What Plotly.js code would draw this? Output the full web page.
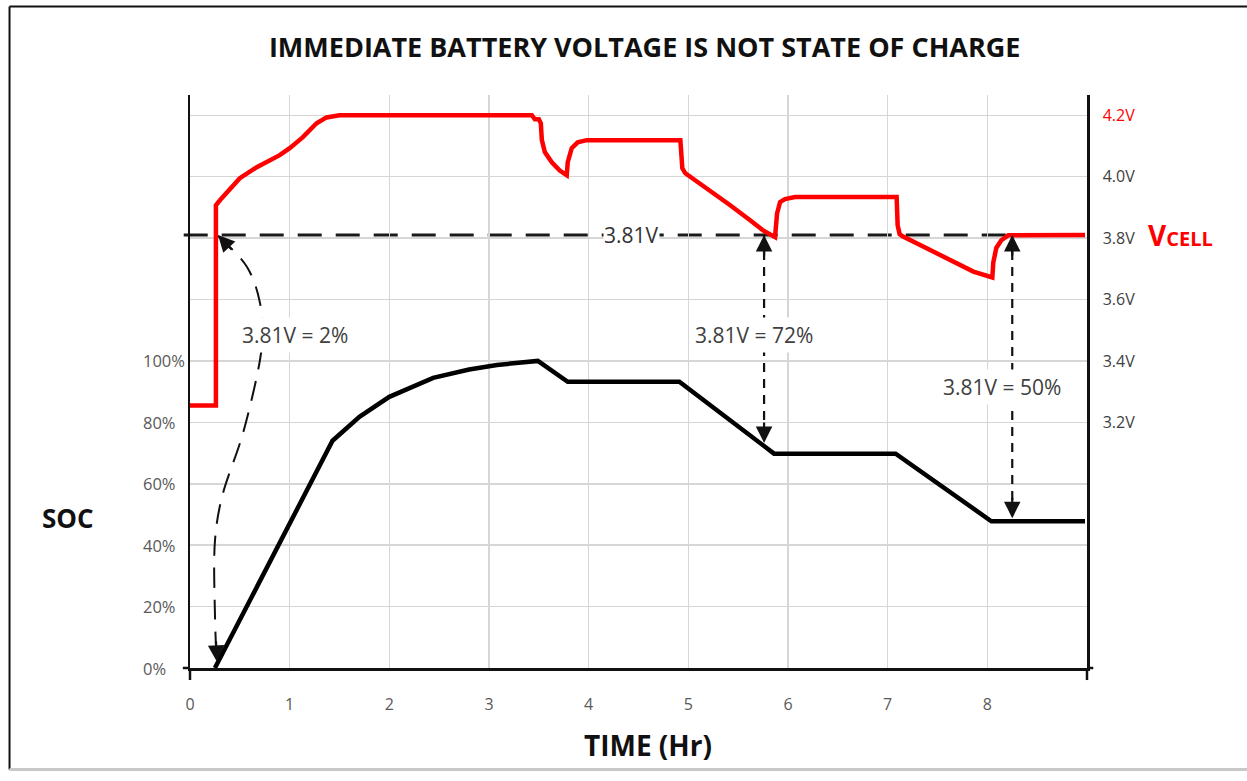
<!DOCTYPE html>
<html>
<head>
<meta charset="utf-8">
<script src="https://cdn.plot.ly/plotly-3.0.1.min.js"></script>
<style>
html,body{margin:0;padding:0;background:#fff;}
#chart{width:1247px;height:781px;}
</style>
</head>
<body>
<div id="chart"></div>
<script>
// ---------- data ----------
const chartTitle = 'IMMEDIATE BATTERY VOLTAGE IS NOT STATE OF CHARGE';

// State of charge (black), percent vs hours
const socHours = [0.25, 1.43, 1.70, 2.00, 2.44, 2.80, 3.08, 3.49, 3.79, 4.91, 5.86, 7.08, 8.04, 8.98];
const socPct   = [0,    74,   81.8, 88.3, 94.5, 97.2, 98.7, 100,  93.2, 93.2, 69.8, 69.8, 47.8, 47.8];

// Cell voltage (red), volts vs hours
const vHours = [0, 0.26, 0.26, 0.30, 0.50, 0.67, 0.90, 1.00, 1.13, 1.27, 1.37, 1.50, 2.50, 3.43,
                3.46, 3.50, 3.52, 3.53, 3.56, 3.63, 3.71, 3.78,
                3.79, 3.83, 3.89, 3.98, 4.92,
                4.94, 4.97, 5.19, 5.42, 5.62, 5.75, 5.87,
                5.88, 5.89, 5.92, 5.97, 6.07, 7.09,
                7.10, 7.12, 7.15, 7.42, 7.66, 7.86, 8.05,
                8.06, 8.09, 8.14, 8.21, 8.98];
const vCell  = [3.255, 3.255, 3.907, 3.923, 3.995, 4.031, 4.070, 4.093, 4.128, 4.174, 4.193, 4.200, 4.200, 4.200,
                4.187, 4.187, 4.174, 4.120, 4.080, 4.047, 4.020, 4.005,
                4.047, 4.093, 4.112, 4.119, 4.119,
                4.027, 4.011, 3.962, 3.907, 3.858, 3.825, 3.803,
                3.840, 3.880, 3.917, 3.927, 3.934, 3.934,
                3.842, 3.813, 3.806, 3.761, 3.721, 3.691, 3.672,
                3.721, 3.768, 3.793, 3.809, 3.810];

const refVolt = 3.81;                 // dashed reference voltage
const refLabel = '3.81V';

// the three "3.81V = x%" readings
const markHours  = [0.27, 5.76, 8.25];
const markSoc    = [2, 73.3, 48.8];
const markLabels = ['3.81V = 2%', '3.81V = 72%', '3.81V = 50%'];
const labelHours = [1.053, 5.659, 8.147];
const labelPct   = [108.5, 108.5, 91.5];

// curved dashed path of the first reading (hours, percent)
const curveHours = [0.281, 0.572, 0.702, 0.722, 0.702, 0.532, 0.321, 0.251, 0.251, 0.265];
const curvePct   = [140.7, 130.6, 118.9, 106.8, 100.3, 76.5, 55.7, 41.7, 16.6, 4];

// axes
const hourTicks = [0, 1, 2, 3, 4, 5, 6, 7, 8];
const socTicks  = [0, 20, 40, 60, 80, 100];
const voltTicks = [3.2, 3.4, 3.6, 3.8, 4.0, 4.2];
const voltTickText = ['3.2V', '3.4V', '3.6V', '3.8V', '4.0V', '<span style="color:#ff0000">4.2V</span>'];

// ---------- scale relation between the two y axes ----------
const pctMax = 186.6;
const voltAtZeroPct = 2.4;
const voltPerPct = 0.01;
const voltRange = [voltAtZeroPct, voltAtZeroPct + pctMax * voltPerPct];
const voltToPct = v => (v - voltAtZeroPct) / voltPerPct;

const FONT = 'Open Sans, Noto Sans, DejaVu Sans, sans-serif';
const TXT = '#404040';
const GRID = '#d6d6d6';

const traces = [];
// vertical dashed reading lines
for (let i = 1; i < markHours.length; i++) {
  traces.push({
    x: [markHours[i], markHours[i]], y: [voltToPct(refVolt), markSoc[i]],
    xaxis: 'x', yaxis: 'y', mode: 'lines',
    line: {color: '#111', width: 2.2, dash: '9px,7px'}, hoverinfo: 'skip', showlegend: false
  });
}
// curved dashed reading line
traces.push({
  x: curveHours, y: curvePct, xaxis: 'x', yaxis: 'y', mode: 'lines',
  line: {color: '#111', width: 2, dash: '20px,12px', shape: 'spline', smoothing: 1},
  hoverinfo: 'skip', showlegend: false
});
// SOC
traces.push({
  x: socHours, y: socPct, xaxis: 'x', yaxis: 'y', mode: 'lines',
  line: {color: '#000', width: 4.5}, hoverinfo: 'skip', showlegend: false
});
// VCELL
traces.push({
  x: vHours, y: vCell, xaxis: 'x', yaxis: 'y2', mode: 'lines',
  line: {color: '#ff0000', width: 4.5}, hoverinfo: 'skip', showlegend: false
});

const annotations = [];
// left tick labels (left-aligned as in the reference)
socTicks.forEach(v => annotations.push({
  xref: 'paper', x: -0.0545, xanchor: 'left', yref: 'y', y: v, yanchor: 'middle',
  text: v + '%', showarrow: false, font: {family: FONT, size: 16.5, color: '#595959'}
}));
// reading labels
markLabels.forEach((t, i) => annotations.push({
  xref: 'x', x: labelHours[i], yref: 'y', y: labelPct[i], xanchor: 'center', text: t, showarrow: false,
  bgcolor: '#ffffff', borderpad: 3, font: {family: FONT, size: 21, color: TXT}
}));
// 3.81V label on the dashed line
annotations.push({
  xref: 'x', x: 4.43, yref: 'y2', y: refVolt, xanchor: 'center', text: refLabel, showarrow: false,
  bgcolor: '#ffffff', borderpad: 0, font: {family: FONT, size: 21, color: '#333'}
});
// arrow heads
const head = {text: '', showarrow: true, arrowhead: 2, arrowsize: 1.5, arrowwidth: 2.2, arrowcolor: '#111', standoff: 0};
annotations.push(Object.assign({}, head, {xref: 'x', x: curveHours[0], yref: 'y2', y: refVolt, ax: 15, ay: 16}));
annotations.push(Object.assign({}, head, {xref: 'x', x: markHours[0], yref: 'y', y: markSoc[0], ax: -1, ay: -22}));
for (let i = 1; i < markHours.length; i++) {
  annotations.push(Object.assign({}, head, {xref: 'x', x: markHours[i], yref: 'y2', y: refVolt, ax: 0, ay: 22}));
  annotations.push(Object.assign({}, head, {xref: 'x', x: markHours[i], yref: 'y', y: markSoc[i], ax: 0, ay: -22}));
}
// axis names
annotations.push({xref: 'paper', x: -0.136, xanchor: 'center', yref: 'paper', y: 0.262, yanchor: 'middle',
  text: '<b>SOC</b>', showarrow: false, font: {family: FONT, size: 26, color: '#111'}});
annotations.push({xref: 'paper', x: 0.5106, xanchor: 'center', yref: 'paper', y: -0.134, yanchor: 'middle',
  text: '<b>TIME (Hr)</b>', showarrow: false, font: {family: FONT, size: 28, color: '#111'}});
annotations.push({xref: 'paper', x: 1.066, xanchor: 'left', yref: 'y2', y: refVolt, yanchor: 'middle',
  text: '<b>V<span style="font-size:20px">CELL</span></b>', showarrow: false,
  font: {family: FONT, size: 28, color: '#ff0000'}});

const shapes = [
  // dashed reference line
  {type: 'line', layer: 'below', xref: 'paper', x0: -0.007, x1: 1, yref: 'y2', y0: refVolt, y1: refVolt,
   line: {color: '#1a1a1a', width: 3, dash: '24px,14px'}},
  // axis line extensions
  {type: 'line', xref: 'paper', yref: 'paper', x0: 0, x1: 0, y0: 0, y1: -0.021, line: {color: '#111', width: 2.5}},
  {type: 'line', xref: 'paper', yref: 'paper', x0: 1, x1: 1, y0: 0, y1: -0.021, line: {color: '#111', width: 2.5}},
  {type: 'line', xref: 'paper', yref: 'paper', x0: -0.008, x1: 0, y0: 0, y1: 0, line: {color: '#111', width: 2.5}},
  {type: 'line', xref: 'paper', yref: 'paper', x0: 1, x1: 1.007, y0: 0, y1: 0, line: {color: '#111', width: 2.5}},
  // outer frame
  {type: 'line', xref: 'paper', yref: 'paper', x0: -0.2012, x1: -0.2012, y0: -0.177, y1: 1.1545, line: {color: '#111', width: 2}},
  {type: 'line', xref: 'paper', yref: 'paper', x0: -0.2012, x1: 1.2, y0: 1.1545, y1: 1.1545, line: {color: '#111', width: 2}},
  {type: 'line', xref: 'paper', yref: 'paper', x0: -0.2012, x1: 1.2, y0: -0.177, y1: -0.177, line: {color: '#c8c8c8', width: 3}}
];

const layout = {
  width: 1247, height: 781,
  margin: {l: 190, r: 160, t: 95, b: 113},
  paper_bgcolor: '#ffffff', plot_bgcolor: 'rgba(0,0,0,0)',
  showlegend: false,
  title: {text: '<b>' + chartTitle + '</b>', x: 0.517, xanchor: 'center', y: 0.9385, yanchor: 'middle',
          font: {family: FONT, size: 27, color: '#111'}},
  xaxis: {range: [0, 9], tickvals: hourTicks, ticktext: hourTicks.map(String), showgrid: true, gridcolor: GRID, gridwidth: 1.5,
          zeroline: false, showline: true, linecolor: '#111', linewidth: 2.5, ticks: '', ticklabelstandoff: 20,
          tickfont: {family: FONT, size: 16, color: '#595959'}, fixedrange: true},
  yaxis: {range: [0, pctMax], tickvals: socTicks, showticklabels: false, showgrid: true, gridcolor: GRID, gridwidth: 1.5,
          zeroline: false, showline: true, linecolor: '#111', linewidth: 2.5, ticks: '', fixedrange: true},
  yaxis2: {range: voltRange, overlaying: 'y', side: 'right', tickvals: voltTicks, ticktext: voltTickText,
           showgrid: true, gridcolor: GRID, gridwidth: 1.5, zeroline: false, showline: true, linecolor: '#111', linewidth: 2.5,
           ticks: '', ticklabelstandoff: 10, tickfont: {family: FONT, size: 16, color: '#404040'}, fixedrange: true},
  annotations: annotations,
  shapes: shapes
};

Plotly.newPlot('chart', traces, layout, {staticPlot: true, displayModeBar: false});
</script>
</body>
</html>
